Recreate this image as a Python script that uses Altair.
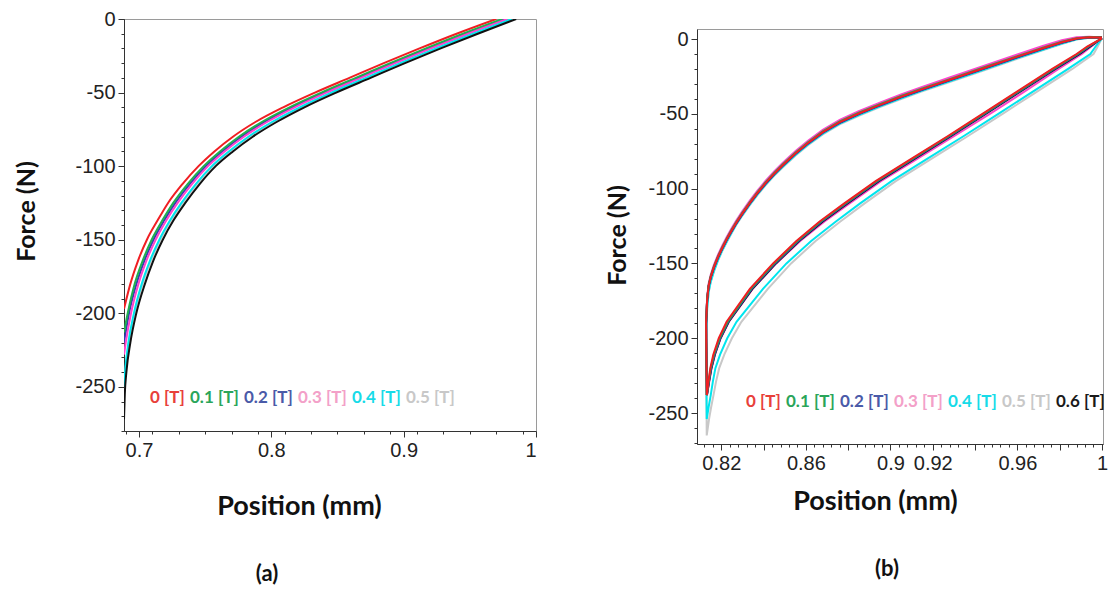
import altair as alt
import pandas as pd

# ---------------- series ----------------
series = ["0 [T]", "0.1 [T]", "0.2 [T]", "0.3 [T]", "0.4 [T]", "0.5 [T]", "0.6 [T]"]
line_colors = ["#f01e23", "#1fb04e", "#2f3fb0", "#ff44cc", "#00e5ee", "#c8c8c8", "#111111"]
label_colors = ["#e8403a", "#2aa55a", "#4a5aa8", "#f3a0c8", "#17dbe8", "#c8c8c8", "#1a1a1a"]

# ---------------- panel (a) ----------------
a_force_grid = [0, -10, -20, -30, -40, -50, -60, -70, -80, -90, -100, -112, -125, -137, -150, -165, -180, -200, -220, -240, -255]
a_end_force = [-197, -213, -220, -228, -250, -258, -272]
a_end_pos = [0.6887, 0.6887, 0.6887, 0.6887, 0.6887, 0.6887, 0.6887]
a_pos_0 = [0.970, 0.940, 0.912, 0.885, 0.859, 0.833, 0.809, 0.788, 0.771, 0.757, 0.745, 0.733, 0.722, 0.714, 0.706, 0.699, 0.6935]
a_pos_1 = [0.9745, 0.9448, 0.9168, 0.8898, 0.8638, 0.8378, 0.8138, 0.7928, 0.7755, 0.7612, 0.7489, 0.7369, 0.7259, 0.7176, 0.7096, 0.7025, 0.6968, 0.6915]
a_pos_2 = [0.9763, 0.9467, 0.9187, 0.8917, 0.8657, 0.8397, 0.8157, 0.7947, 0.7773, 0.7629, 0.7505, 0.7385, 0.7275, 0.7190, 0.7110, 0.7038, 0.6981, 0.6925]
a_pos_3 = [0.9783, 0.9488, 0.9208, 0.8938, 0.8678, 0.8418, 0.8178, 0.7968, 0.7793, 0.7647, 0.7522, 0.7402, 0.7292, 0.7206, 0.7126, 0.7053, 0.6996, 0.6940, 0.6900]
a_pos_4 = [0.9817, 0.9525, 0.9245, 0.8975, 0.8715, 0.8455, 0.8215, 0.8005, 0.7827, 0.7679, 0.7551, 0.7431, 0.7321, 0.7234, 0.7154, 0.7080, 0.7021, 0.6962, 0.6920, 0.6895]
a_pos_5 = [0.9828, 0.9536, 0.9256, 0.8986, 0.8726, 0.8466, 0.8226, 0.8016, 0.7838, 0.7689, 0.7560, 0.7440, 0.7330, 0.7242, 0.7162, 0.7088, 0.7028, 0.6968, 0.6925, 0.6898, 0.6890]
a_pos_6 = [0.985, 0.956, 0.928, 0.901, 0.875, 0.849, 0.825, 0.804, 0.786, 0.771, 0.758, 0.746, 0.735, 0.726, 0.718, 0.7105, 0.7045, 0.698, 0.6935, 0.6905, 0.6893]
a_positions = [a_pos_0, a_pos_1, a_pos_2, a_pos_3, a_pos_4, a_pos_5, a_pos_6]
a_draw_order = [5, 2, 0, 1, 3, 4, 6]

# ---------------- panel (b) ----------------
# loading branch (from the tip at 1 mm down to the deepest point)
b_load_force = [0.5, -5, -10, -20, -35, -50, -65, -80, -95, -110, -122, -135, -150, -167, -189, -200, -211, -220, -229, -238, -246, -254, -265]
b_load_0 = [1.0000, 0.9930, 0.9880, 0.9765, 0.9600, 0.9435, 0.9270, 0.9100, 0.8930, 0.8780, 0.8665, 0.8555, 0.8445, 0.8335, 0.8225, 0.8188, 0.8162, 0.8148, 0.8139, 0.8131]
b_load_1 = [1.0000, 0.9935, 0.9885, 0.9770, 0.9605, 0.9440, 0.9275, 0.9105, 0.8935, 0.8785, 0.8670, 0.8560, 0.8450, 0.8340, 0.8230, 0.8192, 0.8165, 0.8150, 0.8140, 0.8131]
b_load_2 = [1.0000, 0.9940, 0.9890, 0.9775, 0.9610, 0.9445, 0.9280, 0.9110, 0.8940, 0.8790, 0.8675, 0.8565, 0.8455, 0.8344, 0.8233, 0.8195, 0.8168, 0.8152, 0.8141, 0.8132]
b_load_3 = [1.0000, 0.9950, 0.9905, 0.9795, 0.9635, 0.9470, 0.9300, 0.9128, 0.8955, 0.8805, 0.8688, 0.8573, 0.8460, 0.8348, 0.8236, 0.8197, 0.8170, 0.8154, 0.8143, 0.8132]
b_load_4 = [1.0000, 0.9970, 0.9945, 0.9840, 0.9675, 0.9510, 0.9345, 0.9175, 0.9005, 0.8855, 0.8742, 0.8625, 0.8508, 0.8397, 0.8272, 0.8228, 0.8194, 0.8172, 0.8160, 0.8150, 0.8140, 0.8131]
b_load_5 = [1.0000, 0.9980, 0.9960, 0.9860, 0.9695, 0.9530, 0.9365, 0.9195, 0.9025, 0.8876, 0.8763, 0.8646, 0.8530, 0.8420, 0.8295, 0.8250, 0.8214, 0.8190, 0.8175, 0.8163, 0.8152, 0.8142, 0.8131]
b_load_6 = [1.0000, 0.9945, 0.9895, 0.9780, 0.9615, 0.9450, 0.9285, 0.9115, 0.8945, 0.8795, 0.8680, 0.8568, 0.8458, 0.8347, 0.8235, 0.8196, 0.8169, 0.8153, 0.8142, 0.8132]

# unloading branch (positions from the tip back to the left end)
b_unload_pos = [1.000, 0.994, 0.988, 0.981, 0.972, 0.960, 0.944, 0.928, 0.915, 0.905, 0.895, 0.885, 0.876, 0.868, 0.861, 0.855, 0.849, 0.845, 0.841, 0.837, 0.8335, 0.830, 0.827, 0.8248, 0.8225, 0.8205, 0.8185, 0.8165, 0.815, 0.814, 0.8133, 0.8128]
b_unload_0 = [1.0, 1.2, 0.3, -2.2, -6.2, -11.8, -19.5, -27.2, -33.5, -38.6, -44.0, -49.8, -55.6, -62.2, -69.5, -76.5, -84.4, -90.0, -96.2, -103.0, -109.5, -116.5, -123.0, -128.2, -134.0, -139.5, -145.5, -152.5, -159.0, -165.0, -174.0, -189.0]
b_unload_1 = [1.0, 1.4, 0.6, -1.8, -5.8, -11.4, -19.0, -26.8, -33.0, -38.1, -43.5, -49.3, -55.1, -61.7, -69.0, -76.0, -83.9, -89.5, -95.7, -102.5, -109.0, -116.0, -122.5, -127.7, -133.5, -139.0, -145.0, -152.0, -158.5, -164.5, -173.5, -190.0]
b_unload_2 = [1.0, 1.0, 0.1, -2.5, -6.6, -12.2, -19.9, -27.6, -33.9, -39.0, -44.4, -50.2, -56.0, -62.6, -69.9, -76.9, -84.8, -90.4, -96.6, -103.4, -109.9, -116.9, -123.4, -128.6, -134.4, -139.9, -145.9, -152.9, -159.4, -165.4, -174.4, -191.0]
b_unload_3 = [1.0, 1.6, 1.2, -0.8, -4.7, -10.3, -18.0, -25.7, -32.0, -37.1, -42.5, -48.3, -54.1, -60.7, -68.0, -75.0, -82.9, -88.5, -94.7, -101.5, -108.0, -115.0, -121.5, -126.7, -132.5, -138.0, -144.0, -151.0, -157.5, -163.5, -172.5, -190.0]
b_unload_4 = [1.0, 0.9, -0.2, -3.0, -7.2, -12.8, -20.5, -28.2, -34.5, -39.6, -45.0, -50.8, -56.6, -63.2, -70.5, -77.5, -85.4, -91.0, -97.2, -104.0, -110.5, -117.5, -124.0, -129.5, -135.5, -141.0, -147.5, -155.0, -162.0, -169.0, -180.0, -202.0]
b_unload_5 = [1.0, 0.8, -0.4, -3.3, -7.6, -13.2, -21.0, -28.7, -35.0, -40.1, -45.5, -51.3, -57.1, -63.7, -71.0, -78.0, -85.9, -91.5, -97.7, -104.5, -111.0, -118.0, -124.5, -130.0, -136.0, -141.5, -148.0, -155.5, -162.5, -169.5, -180.0, -200.0]
b_unload_6 = [1.0, 1.1, 0.2, -2.4, -6.4, -12.0, -19.7, -27.4, -33.7, -38.8, -44.2, -50.0, -55.8, -62.4, -69.7, -76.7, -84.6, -90.2, -96.4, -103.2, -109.7, -116.7, -123.2, -128.4, -134.2, -139.7, -145.7, -152.7, -159.2, -165.2, -174.2, -190.0]
b_loads = [b_load_0, b_load_1, b_load_2, b_load_3, b_load_4, b_load_5, b_load_6]
b_unloads = [b_unload_0, b_unload_1, b_unload_2, b_unload_3, b_unload_4, b_unload_5, b_unload_6]
b_draw_order = [5, 4, 3, 6, 2, 1, 0]

# ---------------- axis ticks ----------------
a_x_major = [0.7, 0.8, 0.9, 1.0]
a_y_major = [0, -50, -100, -150, -200, -250]
b_x_major = [0.82, 0.84, 0.86, 0.88, 0.9, 0.92, 0.94, 0.96, 0.98, 1.0]
b_x_labelled = [0.82, 0.86, 0.9, 0.92, 0.96, 1.0]
b_y_major = [0, -50, -100, -150, -200, -250]

# ---------------- build tables ----------------
rows_a = []
for k in a_draw_order:
    xs = a_positions[k] + [a_end_pos[k]]
    ys = a_force_grid[:len(a_positions[k])] + [a_end_force[k]]
    for i, (x, y) in enumerate(zip(xs, ys)):
        rows_a.append({"series": series[k], "pos": x, "force": y, "idx": i})
df_a = pd.DataFrame(rows_a)

rows_b = []
for k in b_draw_order:
    load = list(zip(b_loads[k], b_load_force[:len(b_loads[k])]))
    unload = list(zip(b_unload_pos, b_unloads[k]))
    path = load + unload[::-1]
    for i, (x, y) in enumerate(path):
        rows_b.append({"series": series[k], "pos": x, "force": y, "idx": i})
df_b = pd.DataFrame(rows_b)

color_expr = ""
for s, c in zip(series, label_colors):
    color_expr += f"datum.label == '{s}' ? '{c}' : "
color_expr += "'#111111'"

TICK_FONT = "Liberation Sans"
TITLE_FONT = "Lato"


def panel(df, xdom, ydom, x_major, x_label_expr, x_minor, y_major, y_minor,
          w, h, xt, yt, legend_vals, lx, ly, tag, tag_dx, tag_offset, interp):
    xs = alt.Scale(domain=xdom, nice=False, zero=False)
    ys = alt.Scale(domain=ydom, nice=False, zero=False)
    lines = alt.Chart(df).mark_line(strokeWidth=2, clip=True, interpolate=interp).encode(
        x=alt.X("pos:Q", scale=xs, axis=alt.Axis(
            orient="bottom", values=x_major, labelExpr=x_label_expr, title="Position (mm)",
            titleX=xt[0], titleY=xt[1], titleAlign="center", titleBaseline="middle",
            tickSize=6, labelPadding=3, domain=True, grid=False,
            labelFont=TICK_FONT, labelFontSize=20, labelColor="#222222",
            titleFont=TITLE_FONT, titleFontSize=27, titleFontWeight="bold", titleColor="#111111")),
        y=alt.Y("force:Q", scale=ys, axis=alt.Axis(
            orient="left", values=y_major, labelExpr="'' + datum.value", title="Force (N)",
            titleX=yt[0], titleY=yt[1], titleAngle=-90, titleAlign="center", titleBaseline="middle",
            tickSize=6, labelPadding=3, domain=True, grid=False,
            labelFont=TICK_FONT, labelFontSize=20, labelColor="#222222",
            titleFont=TITLE_FONT, titleFontSize=25, titleFontWeight="bold", titleColor="#111111")),
        color=alt.Color("series:N", scale=alt.Scale(domain=series, range=line_colors),
                        legend=alt.Legend(values=legend_vals, orient="none", legendX=lx, legendY=ly,
                                          direction="horizontal", columns=len(legend_vals), title=None,
                                          symbolType="square", symbolOpacity=0, symbolSize=1,
                                          symbolStrokeWidth=0, labelOffset=alt.ExprRef(expr="-14"),
                                          columnPadding=2, gridAlign="none", labelFont=TITLE_FONT,
                                          labelFontSize=17, labelFontWeight="bold",
                                          labelColor=alt.ExprRef(expr=color_expr))),
        order=alt.Order("idx:Q"),
    )
    minor = alt.Chart(df.head(2)).mark_point(opacity=0).encode(
        x=alt.X("pos:Q", scale=xs, axis=alt.Axis(
            orient="bottom", values=x_minor, labels=False, domain=False, tickSize=3, title=None, grid=False)),
        y=alt.Y("force:Q", scale=ys, axis=alt.Axis(
            orient="left", values=y_minor, labels=False, domain=False, tickSize=3, title=None, grid=False)),
    )
    return alt.layer(lines, minor).resolve_axis(x="independent", y="independent").properties(
        width=w, height=h,
        title=alt.TitleParams(tag, orient="bottom", anchor="middle", frame="group", dx=tag_dx,
                              offset=tag_offset, font=TITLE_FONT, fontSize=22, fontWeight="bold",
                              color="#111111"))


a_x_minor = [round(0.69 + 0.02 * i, 3) for i in range(16)]
a_y_minor = list(range(-280, 1, 10))
b_x_minor = [round(0.812 + 0.004 * i, 3) for i in range(48)]
b_y_minor = list(range(-270, 1, 10))

chart_a = panel(df_a, [0.6887, 1.0], [-280, 0], a_x_major, "'' + datum.value", a_x_minor,
                a_y_major, a_y_minor, 412, 412, (175, 75), (-98, 192), series[:6], 23, 370,
                "(a)", -63, 45, "monotone")

b_lab = "indexof(" + str(b_x_labelled) + ", datum.value) >= 0 ? '' + datum.value : ''"
chart_b = panel(df_b, [0.8085, 1.0005], [-270.7, 6.7], b_x_major, b_lab, b_x_minor,
                b_y_major, b_y_minor, 406, 415, (178, 57), (-80, 206), series, 46, 374,
                "(b)", -13, 45, "linear")

# empty strip that lowers the frame of panel (b) a little, as in the original figure
spacer = alt.Chart(pd.DataFrame({"v": [0]})).mark_point(opacity=0, size=0).encode(
    x=alt.X("v:Q", axis=None), y=alt.Y("v:Q", axis=None)
).properties(width=406, height=1, view=alt.ViewBackground(stroke="transparent"))

column_b = alt.vconcat(spacer, chart_b, spacing=7)

chart = alt.hconcat(chart_a, column_b, spacing=67).resolve_scale(color="independent").properties(
    padding={"left": 5, "top": 0, "right": 0, "bottom": 0}
).configure_view(stroke="#9a9a9a", strokeWidth=1).configure_axis(
    domainColor="#333333", tickColor="#333333"
)

chart.save("out.html", embed_options={"renderer": "svg", "actions": False})
